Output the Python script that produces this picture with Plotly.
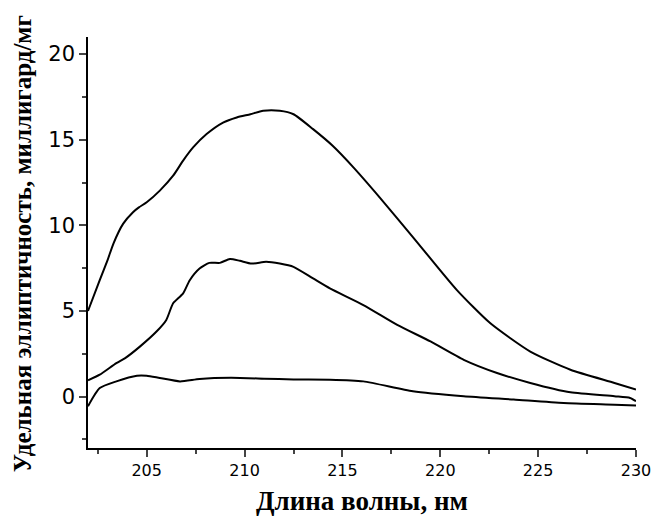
import plotly.graph_objects as go

# Top curve
x_top = [202.0, 202.6, 203.0, 203.3, 203.8, 204.3, 204.6, 205.0, 205.67, 206.35, 206.86, 207.37,
         208.06, 208.9, 209.6, 210.3, 210.95, 211.8, 212.5, 213.5, 214.5, 215.56, 216.9,
         218.6, 220.85, 222.56, 224.6, 226.65, 228.9, 230.0]
y_top = [5.0, 6.8, 7.97, 8.94, 10.1, 10.77, 11.05, 11.35, 12.03, 12.9, 13.78, 14.55,
         15.33, 16.0, 16.3, 16.49, 16.69, 16.69, 16.49, 15.62, 14.65, 13.39, 11.64,
         9.32, 6.22, 4.28, 2.63, 1.57, 0.80, 0.41]

# Middle curve
x_mid = [202.0, 202.6, 203.45, 203.9, 204.65, 205.5, 206.0, 206.35, 206.86, 207.2, 207.7,
         208.2, 208.74, 209.25, 209.76, 210.36, 211.1, 211.8, 212.5, 213.5, 214.36,
         216.07, 217.8, 219.5, 221.2, 222.9, 224.6, 226.65, 228.9, 229.7, 230.0]
y_mid = [0.95, 1.28, 1.96, 2.25, 2.92, 3.8, 4.48, 5.45, 6.03, 6.8, 7.48,
         7.81, 7.81, 8.04, 7.93, 7.77, 7.87, 7.77, 7.58, 6.9, 6.32,
         5.35, 4.19, 3.22, 2.15, 1.38, 0.80, 0.25, 0.02, -0.08, -0.27]

# Bottom curve
x_bot = [202.0, 202.6, 203.45, 204.5, 205.0, 205.67, 206.7, 207.7, 209.3, 211.0, 212.5,
         214.36, 216.07, 218.6, 221.2, 223.75, 226.3, 228.9, 230.0]
y_bot = [-0.56, 0.5, 0.89, 1.22, 1.22, 1.09, 0.89, 1.03, 1.1, 1.05, 1.0,
         0.99, 0.89, 0.31, 0.02, -0.17, -0.37, -0.47, -0.52]

x_ticks = [205, 210, 215, 220, 225, 230]
y_ticks = [0, 5, 10, 15, 20]

x_title = "Длина волны, нм"
y_title = "Удельная эллиптичность, миллигард/мг"

fig = go.Figure()
for xs, ys in [(x_top, y_top), (x_mid, y_mid), (x_bot, y_bot)]:
    fig.add_trace(go.Scatter(x=xs, y=ys, mode="lines",
                             line=dict(color="black", width=2, shape="spline", smoothing=0.6),
                             showlegend=False, hoverinfo="skip"))

fig.update_layout(
    width=653, height=517,
    margin=dict(l=88, r=17, t=37, b=69),
    paper_bgcolor="white", plot_bgcolor="white",
    font=dict(family="DejaVu Sans", color="black"),
    xaxis=dict(range=[202, 230], tickvals=x_ticks, ticks="outside", ticklen=7, tickwidth=1.5,
               showline=True, linewidth=1.5, linecolor="black", showgrid=False, zeroline=False,
               automargin=False,
               tickfont=dict(size=16, family="DejaVu Sans", color="black"),
               minor=dict(ticks="outside", ticklen=4, tickwidth=1.5, dtick=2.5, tick0=200, showgrid=False)),
    yaxis=dict(range=[-3, 21], tickvals=y_ticks, ticks="outside", ticklen=7, tickwidth=1.5,
               showline=True, linewidth=1.5, linecolor="black", showgrid=False, zeroline=False,
               automargin=False,
               tickfont=dict(size=21, family="DejaVu Sans", color="black"),
               minor=dict(ticks="outside", ticklen=4, tickwidth=1.5, dtick=2.5, tick0=0, showgrid=False)),
    annotations=[
        dict(text="<b>" + x_title + "</b>", xref="paper", yref="paper", x=0.5, y=-0.128,
             xanchor="center", yanchor="middle", showarrow=False,
             font=dict(family="Liberation Serif", size=27, color="black")),
        dict(text="<b>" + y_title + "</b>", xref="paper", yref="paper", x=-0.1204, y=0.496,
             xanchor="center", yanchor="middle", textangle=-90, showarrow=False,
             font=dict(family="Liberation Serif", size=25, color="black")),
    ],
)

fig.write_html("out.html", config={"displayModeBar": False},
               post_script="document.body.style.margin='0';")
